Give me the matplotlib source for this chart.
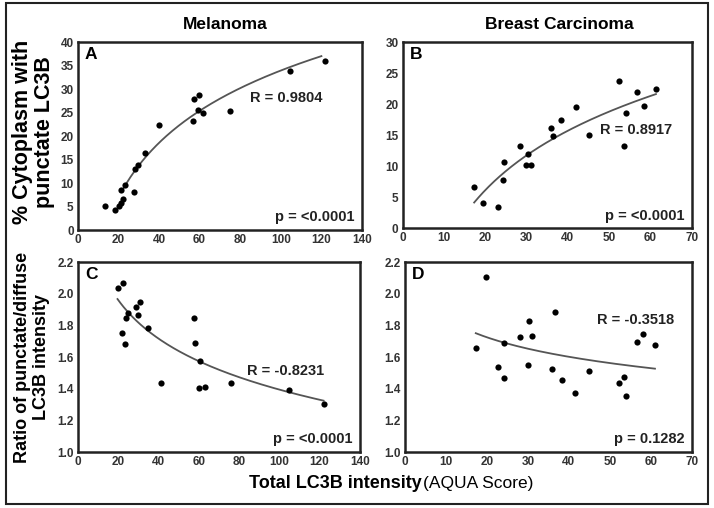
import numpy as np
import matplotlib
matplotlib.use("Agg")
import matplotlib.pyplot as plt
from matplotlib.patches import Rectangle

plt.rcParams['font.family'] = ['Liberation Sans', 'DejaVu Sans']

# ---- data ----
mel_x_A = [13.5, 18.1, 20.3, 21.1, 21.4, 22.2, 23.1, 27.5, 28.2, 29.7, 33.3, 40.0,
           56.5, 57.0, 59.1, 59.5, 61.8, 75.1, 104.3, 121.7]
mel_y_A = [5.1, 4.2, 5.2, 5.8, 8.5, 6.7, 9.5, 8.1, 13.0, 13.9, 16.5, 22.3,
           23.2, 27.8, 25.6, 28.7, 24.9, 25.3, 33.9, 35.9]

bre_x_B = [17.2, 19.5, 23.1, 24.3, 24.5, 28.3, 29.9, 30.4, 31.1, 35.9, 36.4, 38.3,
           41.9, 45.0, 52.4, 53.6, 54.0, 56.8, 58.3, 61.3]
bre_y_B = [6.6, 4.1, 3.4, 7.8, 10.7, 13.3, 10.2, 11.9, 10.1, 16.1, 14.9, 17.5,
           19.6, 15.0, 23.8, 13.3, 18.5, 21.9, 19.7, 22.4]

mel_x_C = [19.7, 22.5, 21.7, 23.2, 23.8, 24.7, 28.7, 29.7, 30.7, 34.7, 41.3,
           57.7, 58.0, 60.8, 60.2, 63.0, 76.0, 104.7, 122.2]
mel_y_C = [2.039, 2.066, 1.754, 1.680, 1.845, 1.881, 1.918, 1.869, 1.947, 1.784, 1.435,
           1.847, 1.690, 1.578, 1.408, 1.412, 1.435, 1.393, 1.302]

bre_x_D = [17.3, 19.7, 22.7, 24.2, 24.3, 28.2, 30.0, 30.4, 31.0, 35.8, 36.5, 38.3,
           41.6, 45.0, 52.3, 53.4, 53.9, 56.5, 58.2, 61.0]
bre_y_D = [1.656, 2.109, 1.540, 1.690, 1.466, 1.726, 1.548, 1.827, 1.734, 1.523, 1.885, 1.453,
           1.375, 1.514, 1.434, 1.474, 1.356, 1.696, 1.743, 1.675]

# logarithmic fit curves y = a + b*ln(x), (a, b, xmin, xmax)
fit_A = (-43.4, 16.8, 22.0, 120.0)
fit_B = (-35.3, 13.83, 17.3, 61.3)
fit_C = (3.016, -0.352, 19.7, 122.0)
fit_D = (2.258, -0.1778, 17.3, 61.0)

r_labels = ["R = 0.9804", "R = 0.8917", "R = -0.8231", "R = -0.3518"]
p_labels = ["p = <0.0001", "p = <0.0001", "p = <0.0001", "p = 0.1282"]
letters = ["A", "B", "C", "D"]
col_titles = ["Melanoma", "Breast Carcinoma"]

fig = plt.figure(figsize=(7.14, 5.08), dpi=100)
fig.patch.set_facecolor('white')

positions = [
    [0.109, 0.547, 0.398, 0.370],
    [0.564, 0.551, 0.405, 0.366],
    [0.109, 0.110, 0.395, 0.374],
    [0.567, 0.110, 0.402, 0.374],
]
xs = [mel_x_A, bre_x_B, mel_x_C, bre_x_D]
ys = [mel_y_A, bre_y_B, mel_y_C, bre_y_D]
fits = [fit_A, fit_B, fit_C, fit_D]
xlims = [(0, 140), (0, 70), (0, 140), (0, 70)]
xticks = [np.arange(0, 141, 20), np.arange(0, 71, 10), np.arange(0, 141, 20), np.arange(0, 71, 10)]
ylims = [(0, 40), (0, 30), (1.0, 2.2), (1.0, 2.2)]
yticks = [np.arange(0, 41, 5), np.arange(0, 31, 5), np.arange(1.0, 2.21, 0.2), np.arange(1.0, 2.21, 0.2)]
r_pos = [(0.606, 0.704), (0.684, 0.527), (0.601, 0.425), (0.669, 0.693)]

for i in range(4):
    ax = fig.add_axes(positions[i])
    ax.scatter(xs[i], ys[i], s=20, color='black', zorder=3, linewidths=0)
    a, b, x0, x1 = fits[i]
    xf = np.linspace(x0, x1, 200)
    ax.plot(xf, a + b * np.log(xf), color='#555555', lw=1.3, zorder=2)
    ax.set_xlim(*xlims[i])
    ax.set_ylim(*ylims[i])
    ax.set_xticks(xticks[i])
    ax.set_yticks(yticks[i])
    if i >= 2:
        ax.set_yticklabels([f"{v:.1f}" for v in yticks[i]])
    ax.tick_params(length=0, pad=3, labelsize=8.5, colors='#333333')
    for lab in ax.get_xticklabels() + ax.get_yticklabels():
        lab.set_fontweight('bold')
    for sp in ax.spines.values():
        sp.set_linewidth(1.8)
        sp.set_color('#222222')
    ax.text(0.025, 0.975, letters[i], transform=ax.transAxes, ha='left', va='top',
            fontsize=12.5, fontweight='bold')
    ax.text(r_pos[i][0], r_pos[i][1], r_labels[i], transform=ax.transAxes, ha='left',
            va='center', fontsize=10.5, fontweight='bold', color='#222222')
    ax.text(0.975, 0.03, p_labels[i], transform=ax.transAxes, ha='right', va='bottom',
            fontsize=10.5, fontweight='bold', color='#222222')

fig.text(0.315, 0.951, col_titles[0], ha='center', va='center', fontsize=12.5, fontweight='bold')
fig.text(0.784, 0.951, col_titles[1], ha='center', va='center', fontsize=12.5, fontweight='bold')

fig.text(0.047, 0.740, "% Cytoplasm with\npunctate LC3B", rotation=90, ha='center',
         va='center', fontsize=15.5, fontweight='bold', linespacing=1.05)
fig.text(0.045, 0.297, "Ratio of punctate/diffuse\nLC3B intensity", rotation=90, ha='center',
         va='center', fontsize=13, fontweight='bold', linespacing=1.15)

fig.text(0.590, 0.049, "Total LC3B intensity", ha='right', va='center', fontsize=13,
         fontweight='bold')
fig.text(0.592, 0.049, "(AQUA Score)", ha='left', va='center', fontsize=12.5,
         family=['Liberation Sans Narrow', 'Liberation Sans'])

fig.patches.append(Rectangle((0.008, 0.008), 0.984, 0.986, transform=fig.transFigure,
                             fill=False, edgecolor='#222222', linewidth=1.5))

fig.savefig("out.png", dpi=100, facecolor='white')
